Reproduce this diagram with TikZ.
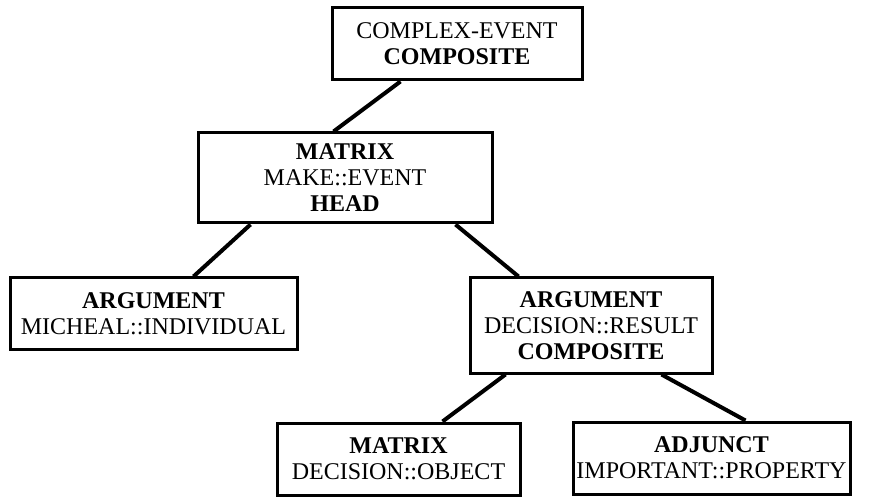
\documentclass[tikz,border=0pt]{standalone}
\usepackage{fontspec}
\setmainfont{Liberation Serif}
\usetikzlibrary{calc}
\begin{document}
\begin{tikzpicture}[x=1pt,y=-1pt,
  box/.style={draw,line width=3pt,inner sep=0pt,align=center,
    font=\fontsize{24}{26}\selectfont},
  link/.style={line width=4pt}]
\useasboundingbox (0,0) rectangle (895,497);
\node[box,minimum width=250,minimum height=72] (b1) at (457,44)
  {COMPLEX-EVENT\\\textbf{COMPOSITE}};
\node[box,minimum width=294,minimum height=90] (b2) at (345,178)
  {\textbf{MATRIX}\\MAKE::EVENT\\\textbf{HEAD}};
\node[box,minimum width=287,minimum height=71] (b3) at (153.5,313.5)
  {\textbf{ARGUMENT}\\MICHEAL::INDIVIDUAL};
\node[box,minimum width=242,minimum height=95] (b4) at (591,325.5)
  {\textbf{ARGUMENT}\\DECISION::RESULT\\\textbf{COMPOSITE}};
\node[box,minimum width=243,minimum height=72] (b5) at (398.5,459)
  {\textbf{MATRIX}\\DECISION::OBJECT};
\node[box,minimum width=277,minimum height=72] (b6) at (711.5,458)
  {\textbf{ADJUNCT}\\IMPORTANT::PROPERTY};
\draw[link] ($(b1.south west)+(70,0)$) -- ($(b2.north west)+(137,0)$);
\draw[link] ($(b2.south west)+(54,0)$) -- ($(b3.north west)+(185,0)$);
\draw[link] ($(b2.south west)+(259,0)$) -- ($(b4.north west)+(50,0)$);
\draw[link] ($(b4.south west)+(37,0)$) -- ($(b5.north west)+(167,0)$);
\draw[link] ($(b4.south west)+(193,0)$) -- ($(b6.north west)+(174,0)$);
\end{tikzpicture}
\end{document}
